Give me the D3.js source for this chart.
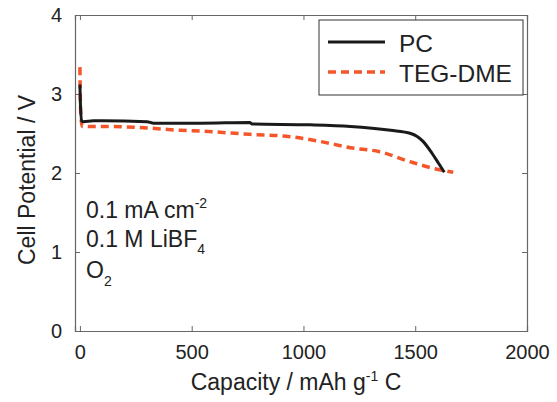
<!DOCTYPE html>
<html>
<head>
<meta charset="utf-8">
<script src="https://cdn.jsdelivr.net/npm/d3@7"></script>
<style>
  body { margin: 0; background: #fff; }
  svg text { font-family: "Liberation Sans", Arial, sans-serif; fill: #222; }
</style>
</head>
<body>
<svg id="chart" width="557" height="402"></svg>
<script>
// discharge curves
const pcCapacity = [0, 2, 8, 15, 60, 100, 300, 330, 540, 760, 770, 1030, 1210, 1390, 1480, 1535, 1575, 1605, 1630];
const pcVoltage = [3.12, 2.9, 2.66, 2.65, 2.66, 2.66, 2.65, 2.63, 2.63, 2.64, 2.62, 2.61, 2.59, 2.54, 2.50, 2.40, 2.25, 2.12, 2.01];
const tegCapacity = [0, 3, 10, 50, 100, 300, 450, 540, 760, 940, 1074, 1210, 1340, 1480, 1610, 1670];
const tegVoltage = [3.34, 2.8, 2.59, 2.59, 2.59, 2.57, 2.54, 2.53, 2.49, 2.46, 2.40, 2.32, 2.27, 2.14, 2.04, 2.01];
const xTicks = [0, 500, 1000, 1500, 2000];
const yTicks = [0, 1, 2, 3, 4];
const seriesNames = ["PC", "TEG-DME"];

const svg = d3.select("#chart");
const mLeft = 75, mRight = 527, mTop = 15, mBottom = 331;

const x = d3.scaleLinear().domain([-22, 2000]).range([mLeft, mRight]);
const y = d3.scaleLinear().domain([0, 4]).range([mBottom, mTop]);

const frame = "#666";

// axes with inward ticks, mirrored on top/right like matlab
const gx = svg.append("g").attr("transform", `translate(0,${mBottom})`)
  .call(d3.axisBottom(x).tickValues(xTicks).tickSize(-5).tickPadding(14).tickFormat(d3.format("d")));
const gy = svg.append("g").attr("transform", `translate(${mLeft},0)`)
  .call(d3.axisLeft(y).tickValues(yTicks).tickSize(-5).tickPadding(13).tickFormat(d3.format("d")));
const gt = svg.append("g").attr("transform", `translate(0,${mTop})`)
  .call(d3.axisTop(x).tickValues(xTicks).tickSize(-5).tickFormat(""));
const gr = svg.append("g").attr("transform", `translate(${mRight},0)`)
  .call(d3.axisRight(y).tickValues(yTicks).tickSize(-5).tickFormat(""));

[gx, gy, gt, gr].forEach(g => {
  g.attr("font-family", null).attr("font-size", 20);
  g.select(".domain").attr("stroke", frame).attr("stroke-width", 1.2);
  g.selectAll(".tick line").attr("stroke", frame);
  g.selectAll(".tick text").attr("fill", "#222");
});

// lines
const pcData = pcCapacity.map((c, i) => [c, pcVoltage[i]]);
const tegData = tegCapacity.map((c, i) => [c, tegVoltage[i]]);
const line = d3.line().x(d => x(d[0])).y(d => y(d[1])).curve(d3.curveMonotoneX);

svg.append("path").datum(tegData)
  .attr("d", line).attr("fill", "none")
  .attr("stroke", "#f4562a").attr("stroke-width", 3.5)
  .attr("stroke-dasharray", "8,5");

svg.append("path").datum(pcData)
  .attr("d", line).attr("fill", "none")
  .attr("stroke", "#1a1a1a").attr("stroke-width", 3);

// legend
const lg = svg.append("g");
lg.append("rect").attr("x", 319).attr("y", 20).attr("width", 204).attr("height", 75)
  .attr("fill", "#fff").attr("stroke", "#333").attr("stroke-width", 1);
lg.append("line").attr("x1", 328).attr("x2", 385).attr("y1", 42).attr("y2", 42)
  .attr("stroke", "#1a1a1a").attr("stroke-width", 3);
lg.append("line").attr("x1", 328).attr("x2", 385).attr("y1", 72).attr("y2", 72)
  .attr("stroke", "#f4562a").attr("stroke-width", 3.5).attr("stroke-dasharray", "8,5");
lg.selectAll("text.name").data(seriesNames).join("text")
  .attr("class", "name")
  .attr("x", 399).attr("y", (d, i) => 52 + i * 30)
  .attr("font-size", 24.5).text(d => d);

// axis titles
const xt = svg.append("text").attr("x", 296).attr("y", 390).attr("text-anchor", "middle").attr("font-size", 23);
xt.append("tspan").text("Capacity / mAh g");
xt.append("tspan").attr("font-size", 14).attr("dy", -9).text("-1");
xt.append("tspan").attr("dy", 9).text(" C");

svg.append("text").attr("transform", "translate(35,180) rotate(-90)")
  .attr("text-anchor", "middle").attr("font-size", 23).text("Cell Potential / V");

// condition notes
const n1 = svg.append("text").attr("x", 86).attr("y", 218).attr("font-size", 23);
n1.append("tspan").text("0.1 mA cm");
n1.append("tspan").attr("font-size", 14).attr("dy", -10).text("-2");
const n2 = svg.append("text").attr("x", 86).attr("y", 247).attr("font-size", 23);
n2.append("tspan").text("0.1 M LiBF");
n2.append("tspan").attr("font-size", 14).attr("dy", 7).text("4");
const n3 = svg.append("text").attr("x", 86).attr("y", 278).attr("font-size", 23);
n3.append("tspan").text("O");
n3.append("tspan").attr("font-size", 14).attr("dy", 8).text("2");
</script>
</body>
</html>
